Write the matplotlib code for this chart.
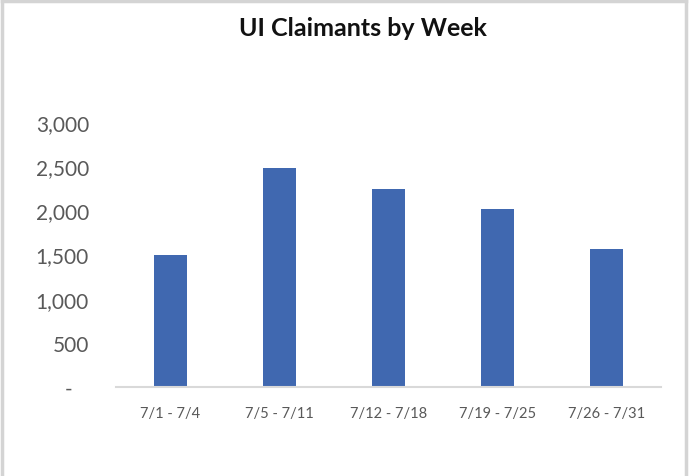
import matplotlib
matplotlib.use("Agg")
import matplotlib.pyplot as plt
from matplotlib.ticker import FuncFormatter, MultipleLocator
from matplotlib.lines import Line2D

categories = ["7/1 - 7/4", "7/5 - 7/11", "7/12 - 7/18", "7/19 - 7/25", "7/26 - 7/31"]
claimants = [1490, 2477, 2236, 2018, 1567]
title = "UI Claimants by Week"

W, H = 689, 477
fig = plt.figure(figsize=(W / 100, H / 100), dpi=100)
fig.patch.set_facecolor("white")

left, right = 116 / W, 661 / W
bottom, top = (H - 388) / H, (H - 123) / H
ax = fig.add_axes([left, bottom, right - left, top - bottom])

x = range(len(categories))
ax.bar(x, claimants, width=0.31, color="#4068B0", zorder=2)

ax.set_xlim(-0.5, len(categories) - 0.5)
ax.set_ylim(0, 3000)
ax.yaxis.set_major_locator(MultipleLocator(500))

def fmt(v, pos):
    if abs(v) < 1e-9:
        return "-   "
    return f"{int(v):,}"

ax.yaxis.set_major_formatter(FuncFormatter(fmt))
ax.set_xticks(list(x))
ax.set_xticklabels(categories)

for s in ["top", "right", "left"]:
    ax.spines[s].set_visible(False)
ax.spines["bottom"].set_color("#D9D9D9")
ax.spines["bottom"].set_linewidth(1.5)

ax.tick_params(axis="y", length=0, pad=19.5, labelsize=15, labelcolor="#595959")
ax.tick_params(axis="x", length=0, pad=13.5, labelsize=10.5, labelcolor="#595959")
for lab in ax.get_yticklabels() + ax.get_xticklabels():
    lab.set_fontfamily("Lato")

fig.text(363 / W, 1 - 28 / H, title, ha="center", va="center",
         fontsize=18, fontweight="bold", family="Lato", color="#111111")

# outer frame (left, top, right)
c = "#D4D4D4"
fig.add_artist(Line2D([2 / W, 2 / W], [0, 1 - 2 / H], color=c, lw=2.5, transform=fig.transFigure))
fig.add_artist(Line2D([2 / W, 1 - 3 / W], [1 - 2 / H, 1 - 2 / H], color=c, lw=2.5, transform=fig.transFigure))
fig.add_artist(Line2D([1 - 3 / W, 1 - 3 / W], [0, 1 - 2 / H], color=c, lw=2.5, transform=fig.transFigure))

fig.savefig("out.png", dpi=100)
